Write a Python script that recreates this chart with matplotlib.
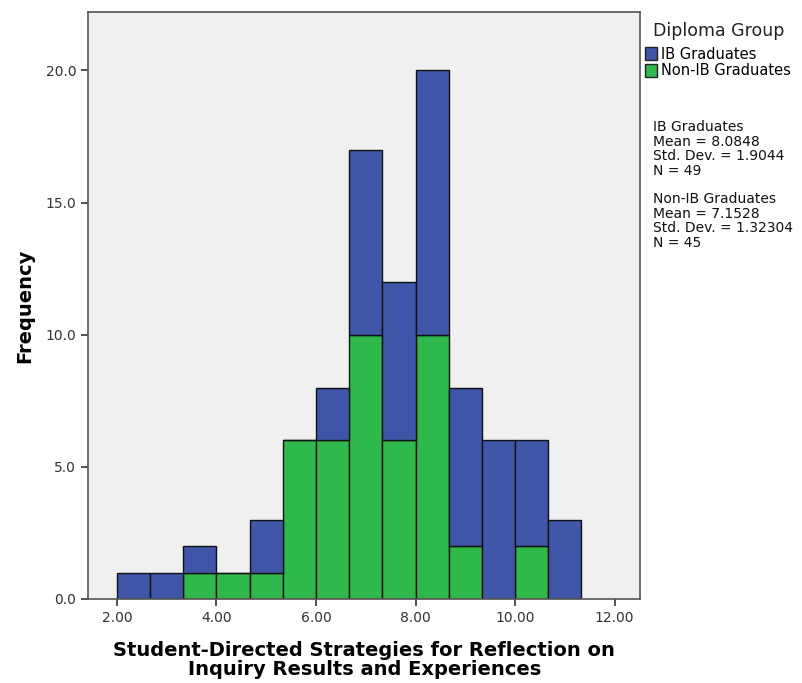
import numpy as np
import matplotlib.pyplot as plt
from matplotlib.patches import Patch

plt.rcParams["font.family"] = ["DejaVu Sans"]

bin_edges = [2.0 + i * (2 / 3) for i in range(15)]
non_ib_counts = [0, 0, 1, 1, 1, 6, 6, 10, 6, 10, 2, 0, 2, 0]
ib_counts = [1, 1, 1, 0, 2, 0, 2, 7, 6, 10, 6, 6, 4, 3]
x_ticks = [2, 4, 6, 8, 10, 12]
y_ticks = [0, 5, 10, 15, 20]

blue = "#3f56a8"
green = "#2fb84b"

fig = plt.figure(figsize=(8.03, 6.83), dpi=100)
ax = fig.add_axes([0.1096, 0.123, 0.688, 0.859])
ax.set_facecolor("#f0f0f0")

lefts = np.array(bin_edges[:-1])
width = np.diff(bin_edges)
ax.bar(lefts, non_ib_counts, width=width, align="edge", color=green,
       edgecolor="#111111", linewidth=1.0)
ax.bar(lefts, ib_counts, width=width, bottom=non_ib_counts, align="edge",
       color=blue, edgecolor="#111111", linewidth=1.0)

ax.set_xlim(1.42, 12.52)
ax.set_ylim(0, 22.2)
ax.set_xticks(x_ticks)
ax.set_xticklabels([f"{t:.2f}" for t in x_ticks])
ax.set_yticks(y_ticks)
ax.set_yticklabels([f"{t:.1f}" for t in y_ticks])
ax.tick_params(labelsize=10, colors="#333333", length=5, width=1.2)
for s in ax.spines.values():
    s.set_color("#555555")
    s.set_linewidth(1.2)

ax.set_xlabel("Student-Directed Strategies for Reflection on\nInquiry Results and Experiences",
              fontsize=14, fontweight="bold", linespacing=1.0, labelpad=12)
ax.set_ylabel("Frequency", fontsize=14, fontweight="bold", labelpad=8)

fig.text(0.813, 0.955, "Diploma Group", fontsize=12.5, color="#222222", va="center")
handles = [Patch(facecolor=blue, edgecolor="#222222"),
           Patch(facecolor=green, edgecolor="#222222")]
fig.legend(handles, ["IB Graduates", "Non-IB Graduates"], loc="upper left",
           bbox_to_anchor=(0.796, 0.94), frameon=False, fontsize=10.5,
           handlelength=0.8, handleheight=1.0, handletextpad=0.3,
           labelspacing=0.1, borderaxespad=0)

stats = ("IB Graduates\nMean = 8.0848\nStd. Dev. = 1.9044\nN = 49\n\n"
         "Non-IB Graduates\nMean = 7.1528\nStd. Dev. = 1.32304\nN = 45")
fig.text(0.813, 0.824, stats, fontsize=10, va="top", linespacing=1.04, color="#111111")

fig.savefig("out.png", dpi=100)
